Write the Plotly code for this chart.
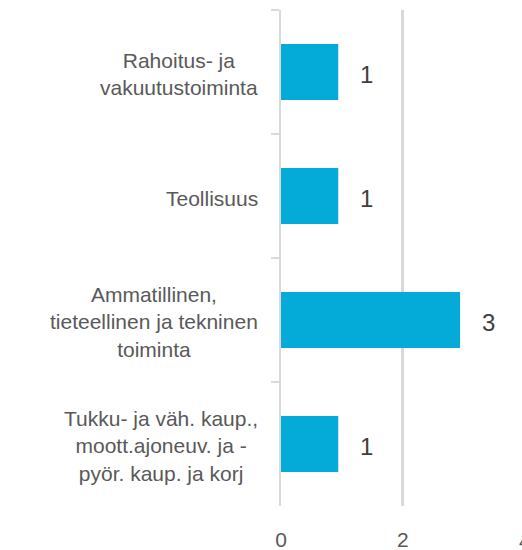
import plotly.graph_objects as go

categories = [
    "Rahoitus- ja<br>vakuutustoiminta",
    "Teollisuus",
    "Ammatillinen,<br>tieteellinen ja tekninen<br>toiminta",
    "Tukku- ja väh. kaup.,<br>moott.ajoneuv. ja -<br>pyör. kaup. ja korj",
]
values = [0.94, 0.94, 2.94, 0.94]
x_ticks = [0, 2, 4]

BAR = "#04ABD9"
GRID = "#D9D9D9"
TXT = "#595959"
FONT = "Liberation Sans, Arial, sans-serif"

x_max = 3.957

fig = go.Figure(
    go.Bar(
        y=categories,
        x=values,
        orientation="h",
        marker=dict(color=BAR, line=dict(width=0)),
        hoverinfo="skip",
    )
)

annotations = []
for c in categories:
    annotations.append(dict(
        x=0, xref="paper", y=c, yref="y", text=c, showarrow=False,
        xanchor="right", yanchor="middle", xshift=-21, yshift=-2, align="center",
        font=dict(family=FONT, size=21, color=TXT),
    ))
for c, v in zip(categories, values):
    annotations.append(dict(
        x=v, xref="x", y=c, yref="y", text=f"{round(v)}", showarrow=False,
        xanchor="left", yanchor="middle", xshift=20, yshift=-2,
        font=dict(family=FONT, size=24, color="#404040"),
    ))
# the last tick label, which falls beyond the right edge of the picture
annotations.append(dict(
    x=x_ticks[-1] / x_max, xref="paper", y=0, yref="paper", text=str(x_ticks[-1]),
    showarrow=False, xanchor="center", yanchor="top", yshift=-21,
    font=dict(family=FONT, size=21, color=TXT),
))

fig.update_layout(
    width=522, height=550,
    margin=dict(l=281, r=0, t=10, b=44),
    paper_bgcolor="white", plot_bgcolor="white",
    bargap=0.55,
    showlegend=False,
    annotations=annotations,
    xaxis=dict(
        range=[0, x_max], tickvals=x_ticks[:-1], showgrid=True, gridcolor=GRID, gridwidth=2.5,
        zeroline=False, showline=False, ticks="outside", ticklen=15, tickcolor="rgba(0,0,0,0)",
        tickfont=dict(family=FONT, size=21, color=TXT), automargin=False,
    ),
    yaxis=dict(
        autorange="reversed", showticklabels=False, showgrid=False, zeroline=False,
        showline=True, linecolor=GRID, linewidth=2, automargin=False,
        ticks="outside", tickson="boundaries", ticklen=8, tickcolor=GRID, tickwidth=2,
    ),
)

fig.write_html(
    "out.html",
    config={"displayModeBar": False},
    post_script="document.body.style.margin='0';",
)
